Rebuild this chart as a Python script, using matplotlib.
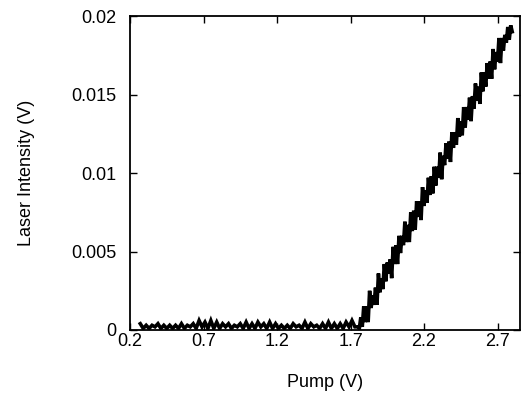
import numpy as np
import matplotlib
matplotlib.use("Agg")
import matplotlib.pyplot as plt

plt.rcParams['font.family'] = ['Liberation Sans', 'DejaVu Sans']

# Pump voltage sweep (V) - below threshold
pump_flat = np.round(np.arange(0.27, 1.735, 0.02), 3)
laser_flat = [
    0.0004, 0.0001, 0.0003, 0.0001, 0.0003, 0.0002, 0.0004, 0.0001, 0.0003, 0.0001,
    0.0003, 0.0001, 0.0003, 0.0001, 0.0004, 0.0001, 0.0003, 0.0002, 0.0004, 0.0001,
    0.0006, 0.0002, 0.0005, 0.0001, 0.0006, 0.0001, 0.0005, 0.0001, 0.0004, 0.0002,
    0.0004, 0.0001, 0.0003, 0.0002, 0.0004, 0.0001, 0.0005, 0.0001, 0.0004, 0.0001,
    0.0005, 0.0002, 0.0004, 0.0001, 0.0005, 0.0001, 0.0004, 0.0001, 0.0003, 0.0001,
    0.0003, 0.0001, 0.0004, 0.0002, 0.0003, 0.0001, 0.0005, 0.0001, 0.0004, 0.0002,
    0.0003, 0.0001, 0.0004, 0.0001, 0.0005, 0.0001, 0.0004, 0.0001, 0.0004, 0.0001,
    0.0005, 0.0002, 0.0006, 0.0002,
]

# Pump voltage sweep (V) - above threshold
pump_ramp = np.round(np.arange(1.75, 2.805, 0.01), 3)
laser_ramp = [
    0.0002, 0.0001, 0.0008, 0.0002, 0.0015, 0.0005, 0.0015, 0.0005, 0.0025, 0.0014,
    0.0022, 0.0016, 0.0027, 0.0016, 0.0036, 0.0024, 0.0033, 0.0026, 0.0042, 0.0031,
    0.0043, 0.0036, 0.0045, 0.0033, 0.0053, 0.0042, 0.0054, 0.0042, 0.0060, 0.0049,
    0.0060, 0.0054, 0.0069, 0.0056, 0.0067, 0.0056, 0.0075, 0.0063, 0.0076, 0.0064,
    0.0082, 0.0072, 0.0082, 0.0070, 0.0091, 0.0079, 0.0089, 0.0081, 0.0097, 0.0086,
    0.0098, 0.0087, 0.0104, 0.0092, 0.0104, 0.0097, 0.0113, 0.0096, 0.0111, 0.0105,
    0.0119, 0.0109, 0.0120, 0.0107, 0.0126, 0.0116, 0.0126, 0.0118, 0.0135, 0.0123,
    0.0133, 0.0124, 0.0142, 0.0129, 0.0142, 0.0134, 0.0148, 0.0133, 0.0149, 0.0141,
    0.0157, 0.0146, 0.0155, 0.0144, 0.0164, 0.0152, 0.0164, 0.0155, 0.0170, 0.0160,
    0.0171, 0.0160, 0.0179, 0.0166, 0.0177, 0.0171, 0.0186, 0.0170, 0.0186, 0.0178,
    0.0188, 0.0183, 0.0193, 0.0185, 0.0194, 0.0190,
]

pump = list(pump_flat) + list(pump_ramp)
laser = laser_flat + laser_ramp

xticks = [0.2, 0.7, 1.2, 1.7, 2.2, 2.7]
xticklabels = ["0.2", "0.7", "1.2", "1.7", "2.2", "2.7"]
yticks = [0, 0.005, 0.01, 0.015, 0.02]
yticklabels = ["0", "0.005", "0.01", "0.015", "0.02"]

fig = plt.figure(figsize=(5.22, 3.94), dpi=100)
ax = fig.add_axes([130/522, 64/394, 390/522, 314/394])
ax.plot(pump, laser, color='black', linewidth=2.6, solid_joinstyle='miter')

ax.set_xlim(0.2, 2.853)
ax.set_ylim(0, 0.02)
ax.set_xticks(xticks)
ax.set_xticklabels(xticklabels)
ax.set_yticks(yticks)
ax.set_yticklabels(yticklabels)
ax.tick_params(direction='in', length=5, width=1, top=True, right=True,
               labelsize=13, colors='black')
ax.tick_params(axis='x', pad=2.5)
ax.tick_params(axis='y', pad=9.5)
for s in ax.spines.values():
    s.set_linewidth(1.3)
ax.set_xlabel("Pump (V)", fontsize=13, labelpad=17)
ax.set_ylabel("Laser Intensity (V)", fontsize=13, labelpad=26)

fig.savefig("out.png", dpi=100)
